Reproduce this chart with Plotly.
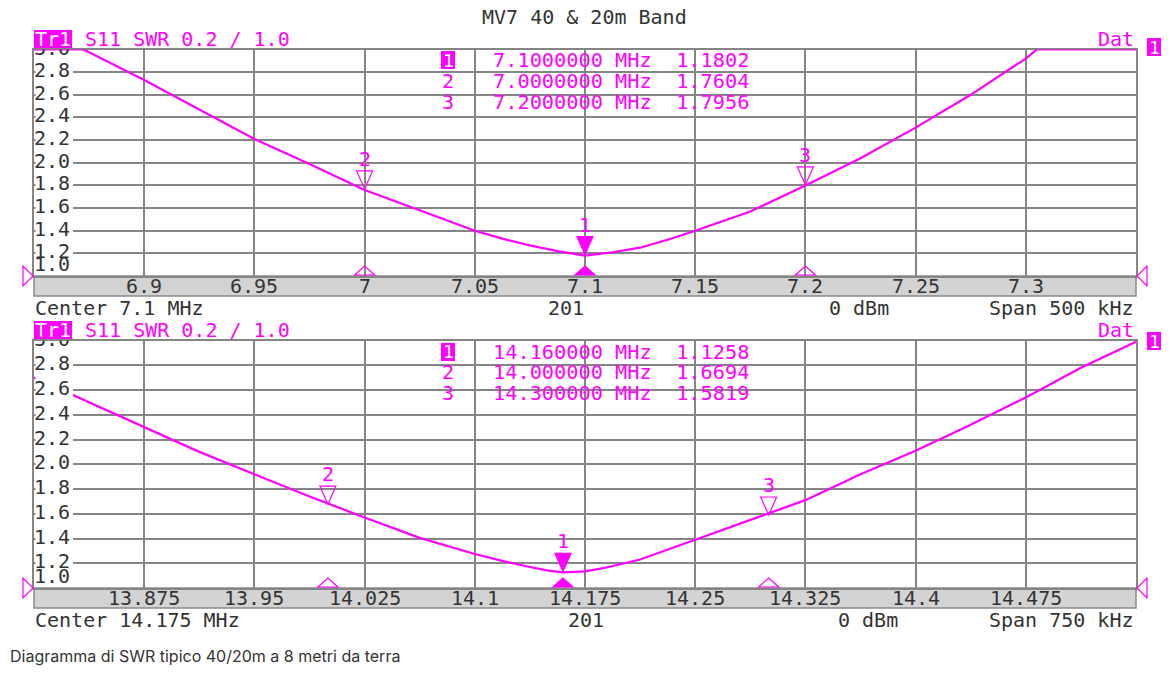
import plotly.graph_objects as go

W, H = 1174, 688
MAG = "#ff00ff"
GRID = "#858585"
TXT = "#333333"
MONO = "DejaVu Sans Mono"
FS = 20

# ---------------- data ----------------
title = "MV7 40 & 20m Band"
caption = "Diagramma di SWR tipico 40/20m a 8 metri da terra"

freq_40 = [6.85, 6.8725, 6.9, 6.925, 6.95, 6.975, 7.0, 7.025, 7.05, 7.0625, 7.075,
           7.0875, 7.1, 7.1125, 7.125, 7.1375, 7.15, 7.175, 7.2, 7.225, 7.25, 7.275,
           7.3, 7.305, 7.35]
swr_40 = [3.0, 3.0, 2.73, 2.47, 2.21, 1.99, 1.76, 1.58, 1.40, 1.33, 1.27,
          1.22, 1.18, 1.21, 1.25, 1.32, 1.40, 1.57, 1.80, 2.04, 2.31, 2.60,
          2.92, 3.0, 3.0]

freq_20 = [13.8, 13.8375, 13.875, 13.9125, 13.95, 13.9875, 14.025, 14.0625, 14.1,
           14.12, 14.1375, 14.15, 14.16, 14.175, 14.1875, 14.2125, 14.25, 14.2875,
           14.325, 14.3625, 14.4, 14.4375, 14.475, 14.5125, 14.55]
swr_20 = [2.70, 2.50, 2.30, 2.10, 1.92, 1.74, 1.57, 1.405, 1.275,
          1.215, 1.17, 1.14, 1.126, 1.135, 1.16, 1.23, 1.39, 1.55,
          1.71, 1.92, 2.11, 2.32, 2.54, 2.78, 2.99]

marker_ids = ["1", "2", "3"]
mk_freq_40 = [7.1, 7.0, 7.2]
mk_swr_40 = [1.1802, 1.7604, 1.7956]
mk_freq_20 = [14.16, 14.0, 14.3]
mk_swr_20 = [1.1258, 1.6694, 1.5819]

xticks_40 = [6.9, 6.95, 7.0, 7.05, 7.1, 7.15, 7.2, 7.25, 7.3]
xticklabels_40 = ["6.9", "6.95", "7", "7.05", "7.1", "7.15", "7.2", "7.25", "7.3"]
xticks_20 = [13.875, 13.95, 14.025, 14.1, 14.175, 14.25, 14.325, 14.4, 14.475]
xticklabels_20 = ["13.875", "13.95", "14.025", "14.1", "14.175", "14.25", "14.325", "14.4", "14.475"]

yticks = [1.0, 1.2, 1.4, 1.6, 1.8, 2.0, 2.2, 2.4, 2.6, 2.8, 3.0]
yticklabels = ["1.0", "1.2", "1.4", "1.6", "1.8", "2.0", "2.2", "2.4", "2.6", "2.8", "3.0"]

x_range_40 = [6.85, 7.35]
x_range_20 = [13.8, 14.55]
y_range = [1.0, 3.0]

header_text = "S11 SWR 0.2 / 1.0"
footer_40 = ["Center 7.1 MHz", "201", "0 dBm", "Span 500 kHz"]
footer_20 = ["Center 14.175 MHz", "201", "0 dBm", "Span 750 kHz"]


# ---------------- layout helpers ----------------
def px(x):
    return x / W


def py(y):
    return 1 - y / H


PL, PR = 34, 1136

panels = [
    dict(xa="x", ya="y", top=49.5, bot=276, freq=freq_40, swr=swr_40,
         mf=mk_freq_40, ms=mk_swr_40, fmt="{:.7f}", xr=x_range_40,
         xt=xticks_40, xl=xticklabels_40, tick_y=285.5, head_y=39, tr_box=(30, 48),
         one_box=(38, 56), rows=(60, 81, 102), tbl_box=(51, 69), foot_y=307.5,
         foot=footer_40, foot_x=(566, 859)),
    dict(xa="x2", ya="y2", top=340.5, bot=588, freq=freq_20, swr=swr_20,
         mf=mk_freq_20, ms=mk_swr_20, fmt="{:.6f}", xr=x_range_20,
         xt=xticks_20, xl=xticklabels_20, tick_y=597.5, head_y=330, tr_box=(321, 339),
         one_box=(332, 350), rows=(351.5, 372, 392.5), tbl_box=(343, 361), foot_y=619.5,
         foot=footer_20, foot_x=(586, 868)),
]

fig = go.Figure()
shapes = []
annotations = []


def ann(text, x, y, xanchor="center", color=TXT, size=FS, family=MONO, **kw):
    annotations.append(dict(text=text, x=px(x), y=py(y), xref="paper", yref="paper",
                            xanchor=xanchor, yanchor="middle", showarrow=False,
                            font=dict(family=family, size=size, color=color), **kw))


layout_axes = {}
for i, p in enumerate(panels):
    xa, ya = p["xa"], p["ya"]
    xkey = "xaxis" if i == 0 else "xaxis2"
    ykey = "yaxis" if i == 0 else "yaxis2"
    span = p["xr"][1] - p["xr"][0]
    plot_w = PR - PL
    plot_h = p["bot"] - p["top"]
    dpx_x = span / plot_w
    dpx_y = (y_range[1] - y_range[0]) / plot_h

    # curve
    fig.add_trace(go.Scatter(x=p["freq"], y=p["swr"], mode="lines",
                             line=dict(color=MAG, width=2.2),
                             xaxis=xa, yaxis=ya, hoverinfo="skip", showlegend=False))
    # white background column behind the y labels
    bx0 = p["xr"][0] + 1.5 * dpx_x
    bx1 = p["xr"][0] + 39 * dpx_x
    by0 = y_range[0] + 1.5 * dpx_y
    by1 = y_range[1] - 1.5 * dpx_y
    fig.add_trace(go.Scatter(x=[bx0, bx1, bx1, bx0, bx0], y=[by0, by0, by1, by1, by0],
                             mode="lines", fill="toself", fillcolor="white",
                             line=dict(width=0, color="white"), xaxis=xa, yaxis=ya,
                             hoverinfo="skip", showlegend=False))
    # y labels drawn inside the plot
    tpos = ["top right" if v == y_range[0] else "middle right" for v in yticks]
    fig.add_trace(go.Scatter(x=[p["xr"][0]] * len(yticks), y=yticks, text=yticklabels,
                             mode="text", textposition=tpos, cliponaxis=True,
                             textfont=dict(family=MONO, size=FS, color=TXT),
                             xaxis=xa, yaxis=ya, hoverinfo="skip", showlegend=False))

    layout_axes[xkey] = dict(domain=[px(PL), px(PR)], range=p["xr"], anchor=ya,
                             tickvals=p["xt"], showticklabels=False, ticks="",
                             showgrid=True, gridcolor=GRID, gridwidth=1.6,
                             showline=True, mirror=True, linecolor=GRID, linewidth=2,
                             zeroline=False, layer="below traces", fixedrange=True)
    layout_axes[ykey] = dict(domain=[py(p["bot"]), py(p["top"])], range=y_range, anchor=xa,
                             tickvals=yticks[1:-1], showticklabels=False, ticks="",
                             showgrid=True, gridcolor=GRID, gridwidth=1.6,
                             showline=True, mirror=True, linecolor=GRID, linewidth=2,
                             zeroline=False, layer="below traces", fixedrange=True)

    # gray frequency band under the plot, with its tick labels
    shapes.append(dict(type="rect", xref=f"{xa} domain", yref=f"{ya} domain",
                       x0=0, x1=1, y0=-20 / plot_h, y1=0, fillcolor="#d3d3d3",
                       line=dict(color="#8a8a8a", width=1.5), layer="below"))
    for tv, tl in zip(p["xt"], p["xl"]):
        annotations.append(dict(text=tl, x=tv, y=py(p["tick_y"]), xref=xa, yref="paper",
                                xanchor="center", yanchor="middle", showarrow=False,
                                font=dict(family=MONO, size=FS, color=TXT)))

    # reference-level triangles left/right
    shapes.append(dict(type="path", xref=f"{xa} domain", yref=f"{ya} domain",
                       xsizemode="pixel", ysizemode="pixel", xanchor=0, yanchor=0,
                       path="M -11,10 L -1,0 L -11,-10 Z", line=dict(color=MAG, width=1.2),
                       fillcolor="rgba(0,0,0,0)", layer="above"))
    shapes.append(dict(type="path", xref=f"{xa} domain", yref=f"{ya} domain",
                       xsizemode="pixel", ysizemode="pixel", xanchor=1, yanchor=0,
                       path="M 11,10 L 1,0 L 11,-10 Z", line=dict(color=MAG, width=1.2),
                       fillcolor="rgba(0,0,0,0)", layer="above"))

    # markers
    for k, (mf, ms) in enumerate(zip(p["mf"], p["ms"])):
        active = (k == 0)
        fill = MAG if active else "rgba(0,0,0,0)"
        shapes.append(dict(type="path", xref=xa, yref=ya, xsizemode="pixel",
                           ysizemode="pixel", xanchor=mf, yanchor=ms,
                           path="M -8,19 L 8,19 L 0,1 Z", fillcolor=fill,
                           line=dict(color=MAG, width=1.2), layer="above"))
        shapes.append(dict(type="path", xref=xa, yref=ya, xsizemode="pixel",
                           ysizemode="pixel", xanchor=mf, yanchor=y_range[0],
                           path="M -10,1 L 10,1 L 0,10 Z", fillcolor=fill,
                           line=dict(color=MAG, width=1.2), layer="above"))
        annotations.append(dict(text=marker_ids[k], x=mf, y=ms, xref=xa, yref=ya,
                                yshift=31, showarrow=False, xanchor="center", yanchor="middle",
                                font=dict(family=MONO, size=FS, color=MAG)))

    # marker table
    for k, (mf, ms) in enumerate(zip(p["mf"], p["ms"])):
        yrow = p["rows"][k]
        if k == 0:
            shapes.append(dict(type="rect", xref="paper", yref="paper",
                               x0=px(441), x1=px(455), y0=py(p["tbl_box"][1]), y1=py(p["tbl_box"][0]),
                               fillcolor=MAG, line=dict(width=0), layer="above"))
            ann(marker_ids[k], 448, yrow, color="white", size=18)
        else:
            ann(marker_ids[k], 448, yrow, color=MAG)
        ann(p["fmt"].format(mf) + " MHz  " + "{:.4f}".format(ms), 491, yrow,
            xanchor="left", color=MAG, size=20.3)

    # header
    shapes.append(dict(type="rect", xref="paper", yref="paper",
                       x0=px(34), x1=px(72), y0=py(p["tr_box"][1]), y1=py(p["tr_box"][0]),
                       fillcolor=MAG, line=dict(width=0), layer="above"))
    ann("Tr1", 53, p["head_y"], color="white")
    ann(header_text, 83, p["head_y"], xanchor="left", color=MAG)
    ann("Dat", 1136, p["head_y"], xanchor="right", color=MAG)
    shapes.append(dict(type="rect", xref="paper", yref="paper",
                       x0=px(1147), x1=px(1161), y0=py(p["one_box"][1]), y1=py(p["one_box"][0]),
                       fillcolor=MAG, line=dict(width=0), layer="above"))
    ann("1", 1154, (p["one_box"][0] + p["one_box"][1]) / 2, color="white", size=18)

    # footer
    ann(p["foot"][0], 33, p["foot_y"], xanchor="left")
    ann(p["foot"][1], p["foot_x"][0], p["foot_y"])
    ann(p["foot"][2], p["foot_x"][1], p["foot_y"])
    ann(p["foot"][3], 1136, p["foot_y"], xanchor="right")

ann(title, 584, 17, color=TXT)
ann(caption, 8, 656, xanchor="left", family="Inter", size=16)

fig.update_layout(width=W, height=H, margin=dict(l=0, r=0, t=0, b=0),
                  paper_bgcolor="white", plot_bgcolor="white", showlegend=False,
                  shapes=shapes, annotations=annotations, **layout_axes)

fig.write_html("out.html", config={"displayModeBar": False},
               post_script="document.body.style.margin='0';")
